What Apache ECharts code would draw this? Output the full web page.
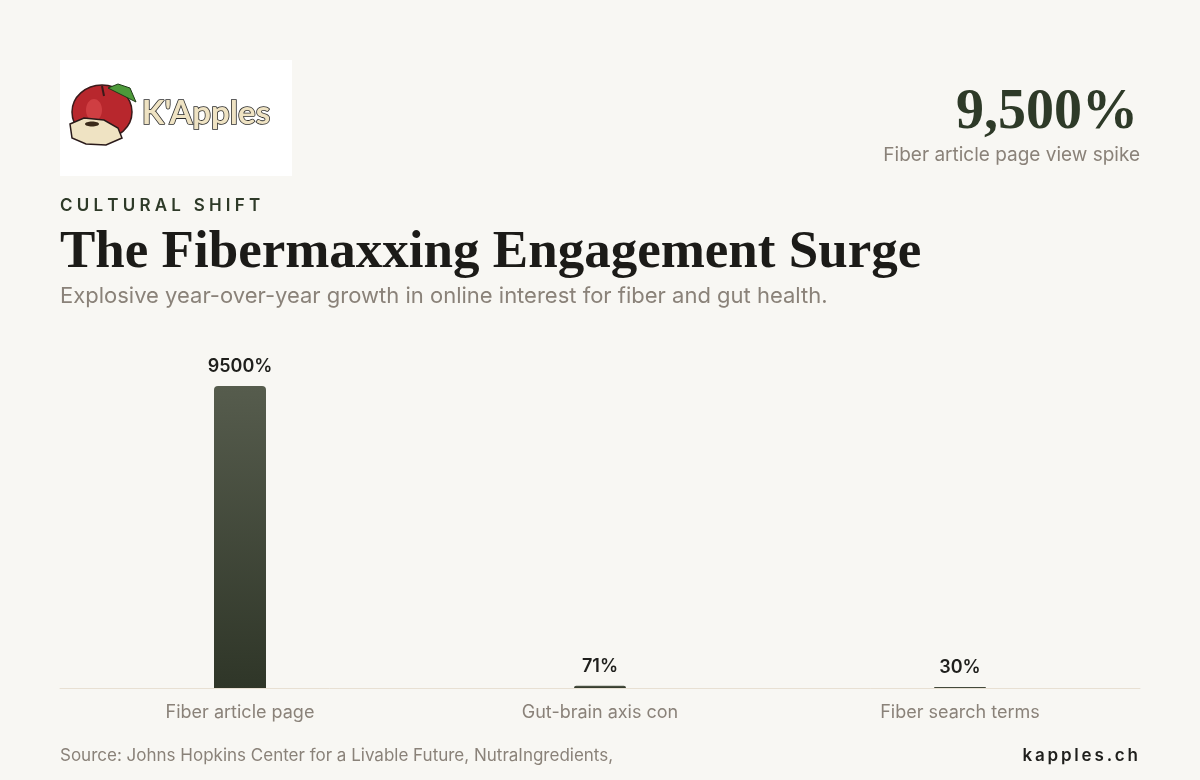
<!DOCTYPE html>
<html>
<head>
<meta charset="utf-8">
<script src="https://cdn.jsdelivr.net/npm/echarts@6/dist/echarts.min.js"></script>
<style>
  html, body { margin: 0; padding: 0; background: #f8f7f3; }
  #chart { width: 1200px; height: 780px; }
</style>
</head>
<body>
<div id="chart"></div>
<script>
// chart data
const categories = ['Fiber article page', 'Gut-brain axis con', 'Fiber search terms'];
const growthValues = [9500, 71, 30];
const headlineValue = '9,500%';
const headlineLabel = 'Fiber article page view spike';

const sans = 'Inter, "Noto Sans", sans-serif';
const serif = '"Liberation Serif", "DejaVu Serif", serif';

// letter spaced text (zrender has no letterSpacing)
function spaced(str, gap){
    return str.split('').join(gap || '\u2009');
}

const chart = echarts.init(document.getElementById('chart'));

const option = {
    backgroundColor: '#f8f7f3',
    animation: false,
    grid: { left: 60, right: 60, top: 386, bottom: 92 },
    xAxis: {
        type: 'category',
        data: categories,
        axisLine: { show: true, lineStyle: { color: '#e8e0d3', width: 1 } },
        axisTick: { show: false },
        axisLabel: { color: '#8a8279', fontSize: 18, fontFamily: sans, margin: 16 }
    },
    yAxis: {
        type: 'value',
        min: 0,
        max: 9500,
        show: false,
        splitLine: { show: false }
    },
    series: [{
        type: 'bar',
        data: growthValues,
        barWidth: 52,
        itemStyle: {
            borderRadius: [4, 4, 0, 0],
            color: new echarts.graphic.LinearGradient(0, 0, 0, 1, [
                { offset: 0, color: '#565c4d' },
                { offset: 1, color: '#2f3628' }
            ])
        },
        label: {
            show: true,
            position: 'top',
            distance: 10,
            formatter: p => p.value + '%',
            color: '#1f1f1c',
            fontSize: 18,
            fontWeight: 600,
            fontFamily: sans
        }
    }],
    graphic: [
        // logo box
        { type: 'rect', left: 60, top: 60, shape: { width: 232, height: 116 }, style: { fill: '#ffffff' } },
        { type: 'ellipse', shape: { cx: 102, cy: 112, rx: 30, ry: 27 }, style: { fill: '#b8272d', stroke: '#3a1a1a', lineWidth: 1.5 } },
        { type: 'ellipse', shape: { cx: 94, cy: 110, rx: 8, ry: 11 }, style: { fill: '#cf3e42' } },
        { type: 'line', shape: { x1: 102, y1: 86, x2: 104, y2: 96 }, style: { stroke: '#3a1a1a', lineWidth: 2 } },
        { type: 'polygon', shape: { points: [[108, 88], [118, 84], [130, 88], [136, 102], [124, 96]] }, style: { fill: '#4d9a3a', stroke: '#1f3a18', lineWidth: 1 } },
        { type: 'polygon', shape: { points: [[70, 124], [84, 118], [104, 120], [118, 128], [122, 138], [106, 145], [86, 144], [72, 138]] }, style: { fill: '#efe3c3', stroke: '#2a1a1a', lineWidth: 1.5 } },
        { type: 'ellipse', shape: { cx: 92, cy: 124, rx: 7, ry: 2.5 }, style: { fill: '#3a2a1a' } },
        { type: 'text', left: 141, top: 96, style: { text: "K'Apples", font: 'bold 33px Lato, sans-serif', fill: '#efe3c3', stroke: '#2a2a2a', lineWidth: 1.6 } },
        // headline stat
        { type: 'text', right: 62, top: 86, style: { text: headlineValue, font: 'bold 56px ' + serif, fill: '#2e3a28', textAlign: 'right' } },
        { type: 'text', right: 60, top: 146, style: { text: headlineLabel, font: '19px ' + sans, fill: '#8a8279', textAlign: 'right' } },
        // titles
        { type: 'text', left: 60, top: 197, style: { text: spaced('CULTURAL', '\u2009\u200a') + '\u2009\u2009\u2009 ' + spaced('SHIFT', '\u2009\u200a'), font: '600 17px ' + sans, fill: '#2e3a28' } },
        { type: 'text', left: 60, top: 227, style: { text: 'The Fibermaxxing Engagement Surge', font: 'bold 53px ' + serif, fill: '#1c1b18' } },
        { type: 'text', left: 60, top: 285, style: { text: 'Explosive year-over-year growth in online interest for fiber and gut health.', font: '22px ' + sans, fill: '#8a8279' } },
        // footer
        { type: 'text', left: 60, top: 747, style: { text: 'Source: Johns Hopkins Center for a Livable Future, NutraIngredients,', font: '17px ' + sans, fill: '#8a8279' } },
        { type: 'text', right: 62, top: 747, style: { text: spaced('kapples.ch'), font: '600 17px ' + sans, fill: '#1f1f1c', textAlign: 'right' } }
    ]
};

chart.setOption(option);
</script>
</body>
</html>
